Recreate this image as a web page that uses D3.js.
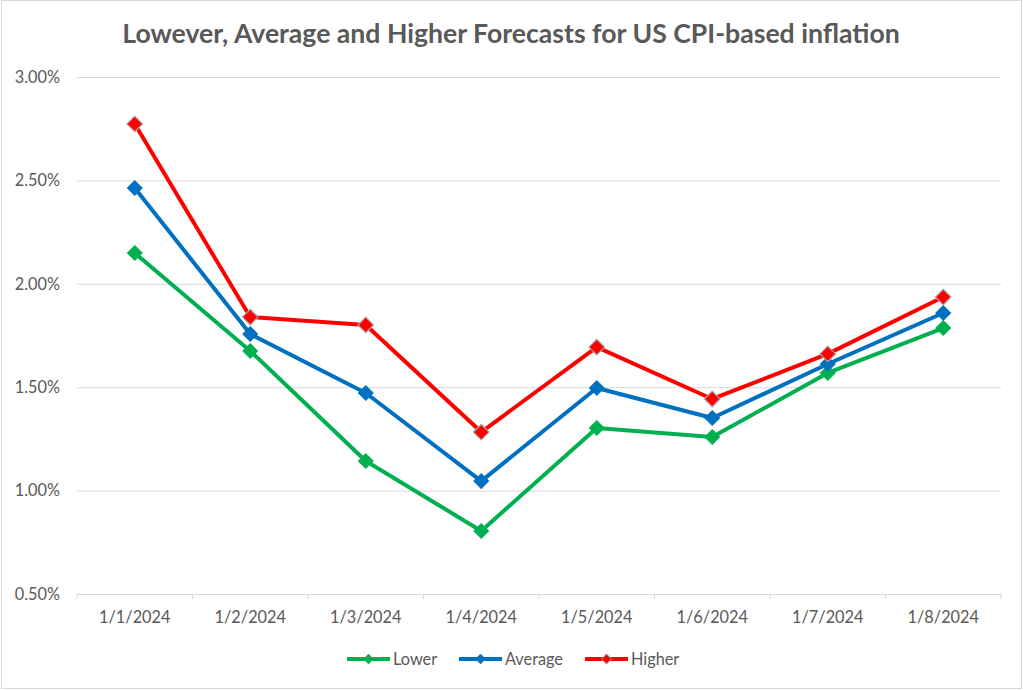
<!DOCTYPE html>
<html><head><meta charset="utf-8">
<script src="https://cdn.jsdelivr.net/npm/d3@7"></script>
<style>body{margin:0;background:#fff}svg{display:block}</style>
</head><body>
<svg id="chart" width="1023" height="690"></svg>
<script>
const categories = ["1/1/2024","1/2/2024","1/3/2024","1/4/2024","1/5/2024","1/6/2024","1/7/2024","1/8/2024"];
const lowerValues   = [2.149, 1.675, 1.143, 0.805, 1.303, 1.259, 1.569, 1.786];
const averageValues = [2.463, 1.757, 1.472, 1.046, 1.496, 1.351, 1.612, 1.859];
const higherValues  = [2.773, 1.839, 1.801, 1.283, 1.694, 1.443, 1.661, 1.936];
const seriesNames = ["Lower","Average","Higher"];
const yTicks = [0.5, 1.0, 1.5, 2.0, 2.5, 3.0];
const titleText = "Lowever, Average and Higher Forecasts for US CPI-based inflation";

const colors = {Lower:"#00b050", Average:"#0070c0", Higher:"#ff0000"};
const series = [
  {name:"Lower", values: lowerValues},
  {name:"Average", values: averageValues},
  {name:"Higher", values: higherValues}
];
const svg = d3.select("#chart");
const font = "Lato, 'Open Sans', sans-serif";
const txtColor = "#595959";
const labelSize = 16.3;

// border
svg.append("rect").attr("x",1.5).attr("y",0.5).attr("width",1020).attr("height",688)
  .attr("fill","#fff").attr("stroke","#d9d9d9").attr("stroke-width",1);

const pLeft = 77, pRight = 1001, pTop = 77, pBottom = 594;
const x = d3.scaleBand().domain(categories).range([pLeft, pRight]);
const y = d3.scaleLinear().domain([0.5, 3.0]).range([pBottom, pTop]);

function fit(sel, w){ const n=sel.node(); const l=n.getComputedTextLength(); const fs=parseFloat(sel.attr("font-size")); sel.attr("font-size", fs*w/l); }

// title
const title = svg.append("text").attr("x", 511).attr("y", 43).attr("text-anchor","middle")
  .attr("font-family", font).attr("font-weight","bold").attr("font-size",24).attr("fill",txtColor).text(titleText);
fit(title, 778);

// grid
const yAxis = d3.axisLeft(y).tickValues(yTicks).tickSize(-(pRight-pLeft)).tickPadding(17)
  .tickFormat(d => d.toFixed(2) + "%");
const gy = svg.append("g").attr("transform",`translate(${pLeft},0)`).call(yAxis);
gy.select(".domain").remove();
gy.selectAll(".tick line").attr("stroke","#d9d9d9").attr("stroke-width",1);
gy.selectAll(".tick text").attr("font-family",font).attr("font-size",labelSize).attr("fill",txtColor);

// x axis
const xAxis = d3.axisBottom(x).tickSize(0).tickPadding(17);
const gx = svg.append("g").attr("transform",`translate(0,${pBottom})`).call(xAxis);
gx.select(".domain").attr("stroke","#d9d9d9").attr("stroke-width",1);
gx.selectAll(".tick text").attr("font-family",font).attr("font-size",labelSize).attr("fill",txtColor);
const bounds = categories.map(c => x(c)).concat([pRight]);
gx.selectAll(".bound").data(bounds).enter().append("line").attr("class","bound")
  .attr("x1",d=>d).attr("x2",d=>d).attr("y1",0).attr("y2",5).attr("stroke","#d9d9d9");

const line = d3.line().x((d,i)=>x(categories[i]) + x.bandwidth()/2).y(d=>y(d));
const diamond = s => `M0,${-s}L${s},0L0,${s}L${-s},0Z`;

series.forEach(s => {
  const g = svg.append("g");
  g.append("path").datum(s.values).attr("d", line).attr("fill","none")
    .attr("stroke", colors[s.name]).attr("stroke-width",4).attr("stroke-linejoin","round");
  g.selectAll("path.m").data(s.values).enter().append("path").attr("class","m")
    .attr("d", diamond(7.8))
    .attr("transform",(d,i)=>`translate(${x(categories[i]) + x.bandwidth()/2},${y(d)})`)
    .attr("fill", colors[s.name])
    .attr("stroke", s.name==="Higher" ? "#a6a6a6" : colors[s.name])
    .attr("stroke-width", s.name==="Higher" ? 1.2 : 0.5);
});

// legend
const legendX = [347, 459, 585];
const ly = 659;
series.forEach((s,i) => {
  const g = svg.append("g").attr("transform",`translate(${legendX[i]},${ly})`);
  g.append("line").attr("x1",0).attr("x2",43).attr("y1",0).attr("y2",0)
    .attr("stroke",colors[s.name]).attr("stroke-width",4);
  g.append("path").attr("d",diamond(5)).attr("transform","translate(21.5,0)")
    .attr("fill",colors[s.name])
    .attr("stroke", s.name==="Higher" ? "#a6a6a6" : colors[s.name]).attr("stroke-width", s.name==="Higher"?1:0.5);
  g.append("text").attr("x",46).attr("y",5.8).attr("font-family",font).attr("font-size",labelSize)
    .attr("fill",txtColor).text(s.name);
});
</script>
</body></html>
